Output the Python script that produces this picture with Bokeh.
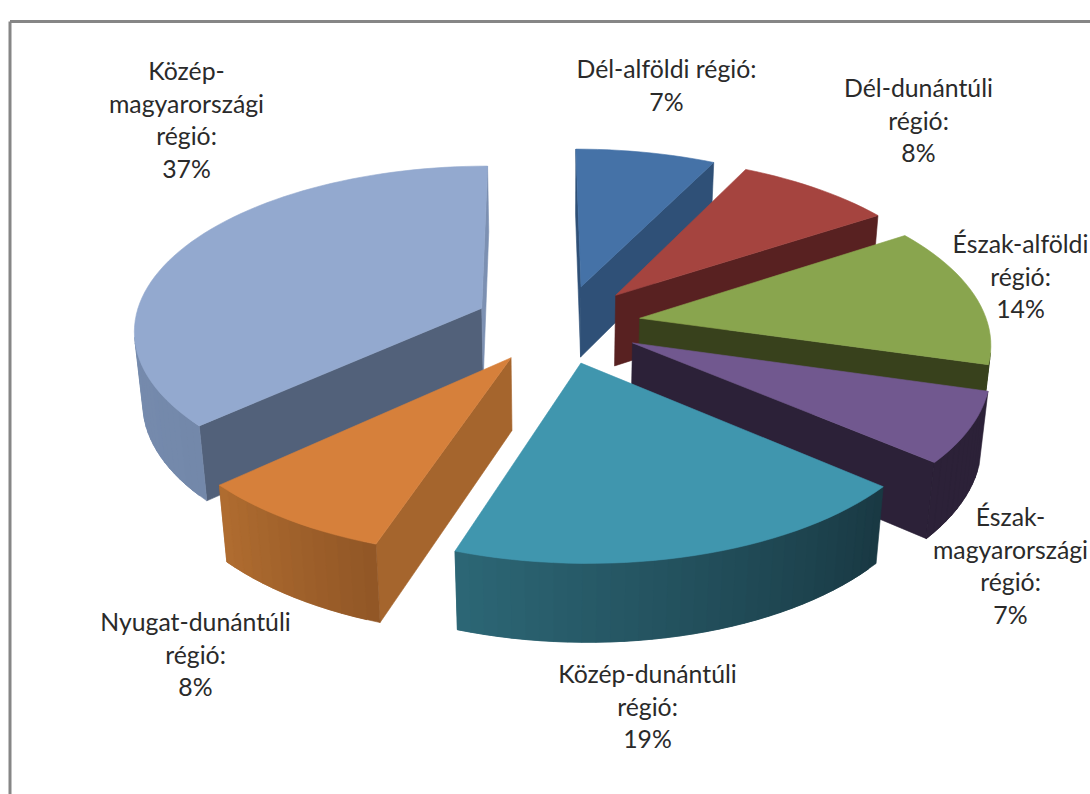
import math
from bokeh.plotting import figure
from bokeh.models import Range1d, ColumnDataSource
from bokeh.core.properties import value
from bokeh.embed import file_html
from bokeh.resources import INLINE

# --- data
regions = ["Dél-alföldi régió", "Dél-dunántúli régió", "Észak-alföldi régió",
           "Észak-magyarországi régió", "Közép-dunántúli régió",
           "Nyugat-dunántúli régió", "Közép-magyarországi régió"]
shares = [7.45, 8.4, 13.6, 6.8, 19.0, 8.0, 36.75]
label_lines = [["Dél-alföldi régió:"], ["Dél-dunántúli", "régió:"],
               ["Észak-alföldi", "régió:"], ["Észak-", "magyarországi", "régió:"],
               ["Közép-dunántúli", "régió:"], ["Nyugat-dunántúli", "régió:"],
               ["Közép-", "magyarországi", "régió:"]]

# --- styles (top colour, start face, end face, rim from, rim to)
styles = [
    ("#4572A7", "#2F5077", "#2F5077", "#2F5077", "#2F5077"),
    ("#A5443F", "#582121", "#582121", "#582121", "#582121"),
    ("#89A54E", "#38411C", "#38411C", "#38411C", "#38411C"),
    ("#71588F", "#2C2138", "#2C2138", "#2C2138", "#2C2138"),
    ("#4096AE", "#1A3A45", "#2C6675", "#193943", "#2C6675"),
    ("#D6803B", "#A5652D", "#A5652D", "#925726", "#AF6C30"),
    ("#93A9CF", "#52617A", "#7C90B2", "#7388AA", "#8095B8"),
]
draw_order = [6, 0, 1, 2, 3, 4, 5]
label_pos = [(666, 68), (918, 87), (1020, 243), (1010, 516), (647, 673), (195, 621), (186, 70)]

# --- projection of the 3-D pie
CX, CY, AX, BY, K, H, ZK, SHEAR = 557.0, 323.5, 348.0, 164.0, 0.127, 73.0, 0.02, -3.0
EXPLODE = 0.24
SIDE_NUDGE = [0.016, 0.012, 0.0, 0.0, 0.0, 0.0, 0.0]
STEP = 2.0


def project(X, Y, z):
    w = 1 + K * Y + ZK * z
    return CX + (AX * X + SHEAR * Y) / w, CY - (BY * Y - H * z) / w


def area(pts):
    s = 0.0
    for i, (x, y) in enumerate(pts):
        x2, y2 = pts[(i + 1) % len(pts)]
        s += x * y2 - x2 * y
    return s


def mix(c1, c2, t):
    a = [int(c1[i:i + 2], 16) for i in (1, 3, 5)]
    b = [int(c2[i:i + 2], 16) for i in (1, 3, 5)]
    return "#%02x%02x%02x" % tuple(round(p + (q - p) * t) for p, q in zip(a, b))


total = sum(shares)
bounds = [0.0]
for v in shares:
    bounds.append(bounds[-1] + v / total * 360)

xs, ys, cols = [], [], []


def add(pts, col):
    xs.append([p[0] for p in pts])
    ys.append([p[1] for p in pts])
    cols.append(col)


for i in draw_order:
    a1, a2 = bounds[i], bounds[i + 1]
    mid = math.radians((a1 + a2) / 2)
    ox, oy = EXPLODE * math.sin(mid) + SIDE_NUDGE[i], EXPLODE * math.cos(mid)
    top_col, start_col, end_col, rim_a, rim_b = styles[i]

    n = max(2, int((a2 - a1) / STEP))
    angs = [math.radians(a1 + (a2 - a1) * j / n) for j in range(n + 1)]
    rim = [(ox + math.sin(t), oy + math.cos(t)) for t in angs]

    ap_t = project(ox, oy, 0)
    ap_l = project(ox, oy, 1)
    s_t, s_l = project(*rim[0], 0), project(*rim[0], 1)
    e_t, e_l = project(*rim[-1], 0), project(*rim[-1], 1)

    q = [ap_t, s_t, s_l, ap_l]
    if area(q) < 0:
        add(q, start_col)
    q = [e_t, ap_t, ap_l, e_l]
    if area(q) < 0:
        add(q, end_col)
    for j in range(n):
        # each strip reaches over the next one, so that no seam shows the page through
        p1, p2 = rim[j], rim[min(j + 2, n)]
        q = [project(*p1, 0), project(*p2, 0), project(*p2, 1), project(*p1, 1)]
        if area(q) < 0:
            add(q, mix(rim_a, rim_b, j / max(1, n - 1)))
    add([ap_t] + [project(*p, 0) for p in rim], top_col)

W, HT = 1090, 794
p = figure(width=W, height=HT, x_range=Range1d(0, W), y_range=Range1d(HT, 0),
           toolbar_location=None, output_backend="svg", min_border=0)
p.axis.visible = False
p.grid.visible = False
p.outline_line_color = None
p.background_fill_color = "#ffffff"

# chart frame
p.line([9.5, 9.5], [794, 21], line_color="#868686", line_width=3)
p.line([9.5, 1090], [21, 21], line_color="#868686", line_width=3)

p.patches("x", "y", source=ColumnDataSource(dict(x=xs, y=ys, c=cols)),
          fill_color="c", line_color="c", line_width=0.6)

tx, ty, tt = [], [], []
LINE = 32.5
for lines, share, (lx, ly) in zip(label_lines, shares, label_pos):
    for j, s in enumerate(lines + [f"{round(share)}%"]):
        tx.append(lx)
        ty.append(ly + j * LINE)
        tt.append(s)
p.text("x", "y", text="t", source=ColumnDataSource(dict(x=tx, y=ty, t=tt)),
       text_font=value("Lato"), text_font_size="24.8px", text_color="#2a2a2a",
       text_align="center", text_baseline="middle")

open("out.html", "w").write(file_html(p, INLINE))
